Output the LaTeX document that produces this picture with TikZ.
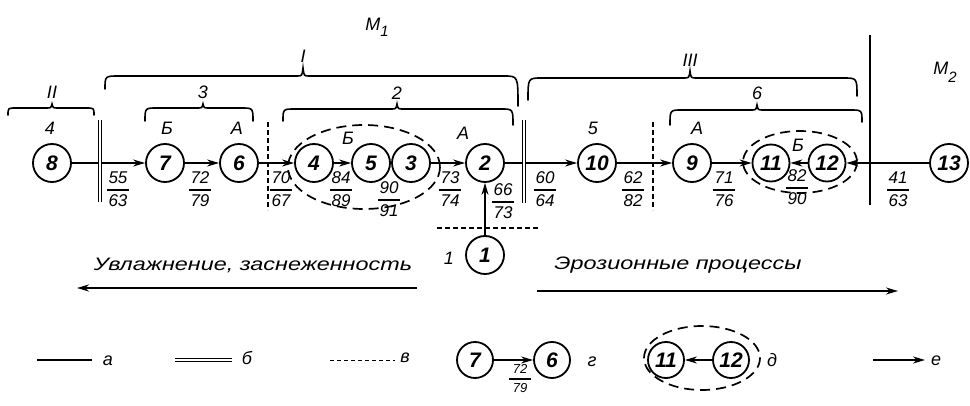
\documentclass[tikz,border=0pt]{standalone}
\usepackage{fontspec}
\setmainfont{Liberation Sans}
\usetikzlibrary{arrows.meta}
\tikzset{
  nd/.style={circle,draw,line width=1.8pt,minimum size=38pt,inner sep=0pt,font=\fontsize{21}{21}\selectfont\bfseries\itshape},
  lab/.style={font=\fontsize{18}{18}\selectfont\itshape,inner sep=0pt},
  frt/.style={font=\fontsize{17}{17}\selectfont\itshape,inner sep=0pt},
  conn/.style={line width=1.8pt,-{Stealth[length=12pt,width=7pt]}},
  sepline/.style={line width=1.8pt},
  dline/.style={line width=0.9pt,double distance=2.4pt},
  dsh/.style={line width=1.5pt,dash pattern=on 5pt off 3pt},
  dell/.style={line width=1.7pt,dash pattern=on 10pt off 6pt},
  br/.style={line width=1.6pt,line cap=round},
}
\newcommand{\frlab}[5][17]{%
  \node[frt,font=\fontsize{#1}{#1}\selectfont\itshape,anchor=base] at (#2,#3-6) {#4};
  \draw[line width=1.2pt] (#2-11,#3)--(#2+11,#3);
  \node[frt,font=\fontsize{#1}{#1}\selectfont\itshape,anchor=base] at (#2,#3+#1) {#5};
}
% x1 x2 xt yflat yl yr ytip h
\newcommand{\mybrace}[8]{%
  \draw[br] (#1,#5) .. controls (#1,#4) .. (#1+#8,#4) -- (#3-6,#4)
    .. controls (#3-1,#4) .. (#3,#7) .. controls (#3+1,#4) .. (#3+6,#4)
    -- (#2-#8,#4) .. controls (#2,#4) .. (#2,#6);
}
\begin{document}
\begin{tikzpicture}[x=1pt,y=-1pt]
\useasboundingbox (0,0) rectangle (970,406);

% main nodes
\node[nd] (n8) at (52,163) {8};
\node[nd] (n7) at (165,163) {7};
\node[nd] (n6) at (239,163) {6};
\node[nd] (n4) at (314,163) {4};
\node[nd] (n5) at (371,163) {5};
\node[nd] (n3) at (411,163) {3};
\node[nd] (n2) at (485,163) {2};
\node[nd] (n10) at (597,163) {10};
\node[nd] (n9) at (692,163) {9};
\node[nd,minimum size=37pt] (n11) at (771,163) {11};
\node[nd,minimum size=37pt] (n12) at (827,163) {12};
\node[nd] (n13) at (949,163) {13};
\node[nd] (n1) at (485,255) {1};

% connectors
\draw[conn] (n8) -- (n7);
\draw[conn] (n7) -- (n6);
\draw[conn] (n6) -- (n4);
\draw[conn] (n4) -- (n5);
\draw[conn] (n3) -- (n2);
\draw[conn] (n2) -- (n10);
\draw[conn] (n10) -- (n9);
\draw[conn] (n9) -- (n11);
\draw[conn] (n12) -- (n11);
\draw[conn] (n13) -- (n12);
\draw[conn] (n1) -- (n2);

% separators
\draw[dline] (100,120) -- (100,202);
\draw[dline] (524,120) -- (524,203);
\draw[dsh] (268,122) -- (268,210);
\draw[dsh] (653,122) -- (653,210);
\draw[dsh] (437,228) -- (540,228);
\draw[sepline] (870,35) -- (870,205);

% dashed ellipses
\draw[dell] (364,167) ellipse [x radius=76, y radius=42];
\draw[dell] (800,162) ellipse [x radius=57, y radius=31];

% fractions
\frlab{118}{190}{55}{63}
\frlab{200}{190}{72}{79}
\frlab{281}{190}{70}{67}
\frlab{341}{190}{84}{89}
\frlab{389}{200}{90}{91}
\frlab{450}{190}{73}{74}
\frlab{503}{202}{66}{73}
\frlab{545}{190}{60}{64}
\frlab{633}{190}{62}{82}
\frlab{724}{190}{71}{76}
\frlab{797}{188}{82}{90}
\frlab{898}{190}{41}{63}

% braces
\mybrace{8}{94}{52}{108}{115}{115}{104}{8}
\mybrace{145}{253}{203}{108}{121}{121}{104}{12}
\mybrace{105}{518}{303}{76}{89}{106}{68}{14}
\mybrace{283}{513}{397}{109}{121}{125}{104}{12}
\mybrace{528}{857}{690}{78}{100}{96}{71}{14}
\mybrace{670}{862}{757}{110}{125}{122}{105}{12}

% labels
\node[lab] (tM1) at (377,27) {M\raisebox{-6pt}{\fontsize{15}{15}\selectfont 1}};
\node[lab] (tM2) at (945,72) {M\raisebox{-8pt}{\fontsize{15}{15}\selectfont 2}};
\node[lab] (tI) at (303,56) {I};
\node[lab] (tII) at (52,92) {II};
\node[lab] (tIII) at (690,60) {III};
\node[lab] (t3) at (203,92) {3};
\node[lab] (t2) at (397,93) {2};
\node[lab] (t6) at (757,93) {6};
\node[lab] (t4) at (50,128) {4};
\node[lab] (tB1) at (167,128) {Б};
\node[lab] (tA1) at (237,128) {А};
\node[lab] (tB2) at (348,138) {Б};
\node[lab] (tA2) at (463,133) {А};
\node[lab] (t5) at (593,128) {5};
\node[lab] (tA3) at (697,128) {А};
\node[lab] (tB3) at (798,145) {Б};
\node[lab] (t1) at (449,258) {1};

% process arrows
\node[lab] (tleft) at (253,265) {\scalebox{1.3}[1]{Увлажнение, заснеженность}};
\node[lab] (tright) at (678,265) {\scalebox{1.3}[1]{Эрозионные процессы}};
\coordinate (la1) at (417,288);
\coordinate (la2) at (77,288);
\coordinate (ra1) at (537,291);
\coordinate (ra2) at (898,291);
\draw[conn] (la1) -- (la2);
\draw[conn] (ra1) -- (ra2);

% legend
\coordinate (lgA1) at (37,360); \coordinate (lgA2) at (92,360);
\draw[line width=1.5pt] (lgA1) -- (lgA2);
\node[lab] (la) at (108,361) {а};
\coordinate (lgB1) at (175,360); \coordinate (lgB2) at (232,360);
\draw[dline] (lgB1) -- (lgB2);
\node[lab] (lb) at (247,358) {б};
\coordinate (lgC1) at (330,360); \coordinate (lgC2) at (395,360);
\draw[line width=1pt,dash pattern=on 4pt off 3pt] (lgC1) -- (lgC2);
\node[lab] (lc) at (405,358) {в};
\node[nd,minimum size=36pt] (L7) at (475,360) {7};
\node[nd,minimum size=36pt] (L6) at (552,360) {6};
\draw[conn] (L7) -- (L6);
\frlab[13]{520}{379}{72}{79}
\node[lab] (lg) at (592,362) {г};
\draw[dell] (702,358) ellipse [x radius=58, y radius=32];
\node[nd,minimum size=36pt] (L11) at (666,360) {11};
\node[nd,minimum size=36pt] (L12) at (731,360) {12};
\draw[conn] (L12) -- (L11);
\node[lab] (ld) at (772,360) {д};
\coordinate (lgE1) at (873,360); \coordinate (lgE2) at (925,360);
\draw[conn] (lgE1) -- (lgE2);
\node[lab] (le) at (936,361) {е};
\end{tikzpicture}
\end{document}
